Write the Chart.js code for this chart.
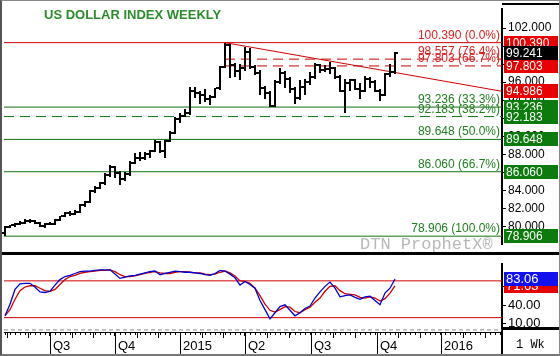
<!DOCTYPE html>
<html>
<head>
<meta charset="utf-8">
<script src="https://cdn.jsdelivr.net/npm/chart.js"></script>
<style>
  body { margin: 0; background: #fff; }
  #wrap { position: relative; width: 560px; height: 356px; overflow: hidden; background: #fff; }
  #mainChart { position: absolute; left: 0; top: 0; }
  #stochChart { position: absolute; left: 0; top: 254px; }
  #frame { position: absolute; left: 0; top: 0; width: 560px; height: 356px; box-sizing: border-box;
           border: 1px solid #8a8a8a; border-left: 2px solid #555; border-bottom: 2px solid #777; pointer-events: none; }
</style>
</head>
<body>
<div id="wrap">
  <canvas id="mainChart" width="560" height="254"></canvas>
  <canvas id="stochChart" width="560" height="102"></canvas>
  <div id="frame"></div>
</div>
<script>
// weekly bars, May 2014 -> Nov 2015
const opens = [79.3,79.9,80.1,80.3,80.4,80.6,80.6,80.4,80.0,80.3,
  80.3,80.7,81.1,81.5,81.4,81.6,82.4,82.7,83.9,84.3,
  84.8,85.7,86.6,85.9,85.3,85.8,87.0,87.6,87.6,88.0,
  88.4,89.4,88.4,89.5,90.4,91.9,92.3,92.6,95.0,94.8,
  94.6,94.1,94.4,95.3,97.7,100.1,97.9,97.2,97.6,99.4,
  97.7,97.0,95.3,94.8,93.4,96.0,97.0,96.3,95.2,94.2,
  95.5,96.0,96.6,97.9,97.3,97.5,97.6,96.6,95.0,95.9,
  96.2,95.2,95.0,96.3,96.0,95.0,94.6,96.9,97.1];
const highs = [80.0,80.2,80.4,80.6,80.8,80.8,80.7,80.5,80.4,80.5,
  80.8,81.2,81.6,81.7,81.8,82.5,82.8,84.0,84.5,84.9,
  85.9,86.8,86.7,86.1,86.0,87.2,88.1,88.2,88.3,88.5,
  89.6,89.5,89.6,90.6,92.1,92.6,93.0,95.5,95.5,95.0,
  95.2,94.6,95.4,97.8,100.39,100.2,98.1,98.0,99.9,99.8,
  97.9,97.3,95.6,95.0,96.2,97.6,97.2,96.6,95.5,96.2,
  96.4,97.1,98.1,98.0,97.9,98.2,97.7,96.8,96.4,96.4,
  96.3,95.9,96.7,96.6,96.2,95.2,97.0,98.0,99.4];
const lows = [78.906,79.8,79.9,80.1,80.3,80.4,80.3,79.9,79.8,80.1,
  80.2,80.6,81.0,81.2,81.3,81.5,82.2,82.6,83.7,84.1,
  84.6,85.5,85.4,84.6,85.0,85.6,86.9,87.3,87.4,87.6,
  88.2,88.1,87.6,89.4,90.2,91.5,92.1,92.4,94.2,93.6,
  93.8,93.5,94.2,95.1,97.6,96.5,96.6,96.2,97.2,97.5,
  96.8,94.6,94.1,93.2,93.3,95.8,95.3,94.8,93.6,94.0,
  94.6,95.7,96.3,97.0,97.1,96.9,96.3,94.9,92.6,95.0,
  95.1,94.1,94.9,95.3,94.9,93.9,94.5,96.6,96.9];
const closes = [79.9,80.1,80.3,80.4,80.6,80.6,80.4,80.0,80.3,80.3,
  80.7,81.1,81.5,81.4,81.6,82.4,82.7,83.9,84.3,84.8,
  85.7,86.6,85.9,85.3,85.8,87.0,87.6,87.6,88.0,88.4,
  89.4,88.4,89.5,90.4,91.9,92.3,92.6,95.0,94.8,94.6,
  94.1,94.4,95.3,97.7,100.1,97.9,97.2,97.6,99.4,97.7,
  97.0,95.3,94.8,93.4,96.0,97.0,96.3,95.2,94.2,95.5,
  96.0,96.6,97.9,97.3,97.5,97.6,96.6,95.0,95.9,96.2,
  95.2,95.0,96.3,96.0,95.0,94.6,96.9,97.1,99.241];

// stochastics
const stochK = [23,42,66,75,76,76,70,62,61,63,
  73,82,87,89,92,95,96,96,97,98,
  98,98,91,84,86,88,89,91,93,95,
  96,90,92,94,96,95,94,94,93,92,
  90,89,92,97,96,91,85,73,79,74,
  68,48,33,18,28,38,41,32,23,28,
  35,39,52,62,71,78,68,54,56,57,
  53,50,54,55,48,41,60,68,83.06];
const stochD = [23,33,50,64,70,72,72,68,64,63,
  66,74,82,87,89,92,94,95,96,97,
  97,98,95,90,87,87,88,90,92,94,
  95,93,92,92,94,95,95,94,93,93,
  91,90,91,94,96,93,88,80,79,76,
  68,56,42,32,29,33,38,37,30,28,
  33,37,45,52,63,71,72,64,59,58,
  57,53,52,54,52,47,51,60,71.63];
const stochBands = [80, 20];

// retracement levels
const fibLevels = [100.390, 98.557, 97.803, 93.236, 92.183, 89.648, 86.060, 78.906];
const fibPcts = ['0.0%', '76.4%', '66.7%', '33.3%', '38.2%', '50.0%', '66.7%', '100.0%'];
const trendEnd = 94.986;

// axes
const priceTicks = [80, 82, 84, 86, 88, 90, 92, 94, 96, 98, 100, 102];
const stochTicks = [10, 40, 70];
const quarterWeeks = [9.0, 22.0, 35.0, 48.0, 61.2, 74.4, 87.2];
const quarterLabels = ['Q3', 'Q4', '2015', 'Q2', 'Q3', 'Q4', '2016'];

const X_MIN = -0.2, X_MAX = 99.4;
const RED = '#d00000', GREEN = '#117311', BLUE = '#0000d0';
const RED_TXT = '#e02020', GREEN_TXT = '#1f7f1f';
const FONT = '"Liberation Sans", Arial, sans-serif';
Chart.defaults.font.family = FONT;

const peakWeek = highs.indexOf(Math.max(...highs));
const fibStyle = [
  { color: RED, dash: [], fromPeak: false },
  { color: RED, dash: [10, 6], fromPeak: true },
  { color: RED, dash: [10, 6], fromPeak: true },
  { color: GREEN, dash: [] },
  { color: GREEN, dash: [10, 6] },
  { color: GREEN, dash: [] },
  { color: GREEN, dash: [] },
  { color: GREEN, dash: [] }
];

const lineSet = (pts, color, dash, width) => ({
  data: pts, borderColor: color, borderDash: dash || [], borderWidth: width || 1,
  pointRadius: 0, tension: 0, fill: false
});

const mainSets = fibLevels.map((v, k) => lineSet(
  [{ x: fibStyle[k].fromPeak ? peakWeek : X_MIN, y: v }, { x: X_MAX, y: v }],
  fibStyle[k].color, fibStyle[k].dash));
mainSets.push(lineSet([{ x: peakWeek, y: highs[peakWeek] }, { x: X_MAX, y: trendEnd }], RED));

function valueBox(ctx, y, bg, text, size) {
  ctx.fillStyle = bg;
  ctx.fillRect(504, Math.round(y) - 7, 54, 14);
  ctx.fillStyle = '#fff';
  ctx.font = size + 'px ' + FONT;
  ctx.textAlign = 'left';
  ctx.textBaseline = 'middle';
  ctx.fillText(text, 506, Math.round(y) + 0.5);
}

const ohlcPlugin = {
  id: 'ohlc',
  afterDatasetsDraw(chart) {
    const { ctx, scales: { x, y } } = chart;
    ctx.save();
    ctx.fillStyle = '#000';
    opens.forEach((o, i) => {
      const px = Math.round(x.getPixelForValue(i));
      const yH = Math.round(y.getPixelForValue(highs[i]));
      const yL = Math.round(y.getPixelForValue(lows[i]));
      ctx.fillRect(px - 1, yH, 2, Math.max(2, yL - yH));
      ctx.fillRect(px - 3, Math.round(y.getPixelForValue(o)) - 1, 2, 2);
      ctx.fillRect(px + 1, Math.round(y.getPixelForValue(closes[i])) - 1, 2, 2);
    });
    ctx.restore();
  },
  afterDraw(chart) {
    const { ctx, chartArea, scales: { y } } = chart;
    ctx.save();
    // title + watermark
    ctx.textAlign = 'left';
    ctx.textBaseline = 'alphabetic';
    ctx.font = 'bold 13px ' + FONT;
    ctx.fillStyle = '#2a8c2a';
    ctx.fillText('US DOLLAR INDEX WEEKLY', 44, 19);
    ctx.font = '17px "Liberation Mono", monospace';
    ctx.fillStyle = '#b8b8b8';
    ctx.fillText('DTN ProphetX\u00AE', 360, 249);

    // level captions
    ctx.font = '12px ' + FONT;
    ctx.textAlign = 'right';
    fibLevels.forEach((v, k) => {
      ctx.fillStyle = fibStyle[k].color === RED ? RED_TXT : GREEN_TXT;
      ctx.fillText(v.toFixed(3) + ' (' + fibPcts[k] + ')', chartArea.right - 2, y.getPixelForValue(v) - 4);
    });

    // axis value boxes
    [0, 1, 2].forEach(k => valueBox(ctx, y.getPixelForValue(fibLevels[k]), '#e80000', fibLevels[k].toFixed(3), 12));
    valueBox(ctx, y.getPixelForValue(closes[closes.length - 1]), '#000', closes[closes.length - 1].toFixed(3), 12);
    valueBox(ctx, y.getPixelForValue(trendEnd), '#e80000', trendEnd.toFixed(3), 12);
    [3, 4, 5, 6, 7].forEach(k => valueBox(ctx, y.getPixelForValue(fibLevels[k]), '#0c7a0c', fibLevels[k].toFixed(3), 12));

    // panel borders
    ctx.fillStyle = '#000';
    ctx.fillRect(502, 3, 58, 2);
    ctx.fillRect(0, 252, 560, 2);
    ctx.restore();
  }
};

new Chart(document.getElementById('mainChart'), {
  type: 'line',
  data: { datasets: mainSets },
  options: {
    responsive: false,
    animation: false,
    layout: { padding: { left: 4, top: 5, bottom: 1, right: 0 } },
    plugins: { legend: { display: false }, tooltip: { enabled: false } },
    scales: {
      x: { type: 'linear', min: X_MIN, max: X_MAX, display: false },
      y: {
        position: 'right', min: 77.95, max: 104.1,
        afterFit: s => { s.width = 58; },
        afterBuildTicks: s => { s.ticks = priceTicks.map(v => ({ value: v })); },
        ticks: { color: '#000', font: { size: 12 }, padding: 2, autoSkip: false, callback: v => v.toFixed(3) },
        grid: { drawOnChartArea: false, tickLength: 4, color: '#000' },
        border: { color: '#000', width: 2 }
      }
    }
  },
  plugins: [ohlcPlugin]
});

const stochPlugin = {
  id: 'stochExtras',
  afterDraw(chart) {
    const { ctx, chartArea, scales: { x, y } } = chart;
    ctx.save();
    ctx.fillStyle = '#000';
    // week ticks, month ticks, quarter separators
    for (let i = 0; i < X_MAX; i++) {
      ctx.fillRect(Math.round(x.getPixelForValue(i)), chartArea.bottom, 1, 3);
    }
    quarterWeeks.forEach((q, k) => {
      const step = k + 1 < quarterWeeks.length ? (quarterWeeks[k + 1] - q) / 3 : 13.05 / 3;
      [1, 2].forEach(m => {
        const v = q + m * step;
        if (v < X_MAX) ctx.fillRect(Math.round(x.getPixelForValue(v)), chartArea.bottom, 1, 6);
      });
      ctx.fillRect(Math.round(x.getPixelForValue(q)), chartArea.bottom, 1, 22);
    });
    [quarterWeeks[0] - 13.0 / 3, quarterWeeks[0] - 26.0 / 3].forEach(v => {
      if (v > X_MIN) ctx.fillRect(Math.round(x.getPixelForValue(v)), chartArea.bottom, 1, 6);
    });
    ctx.fillRect(501, chartArea.bottom, 2, 102 - chartArea.bottom);
    ctx.fillRect(502, 73, 58, 3);
    ctx.fillRect(0, 0, 560, 1);

    // value boxes
    valueBox(ctx, y.getPixelForValue(stochD[stochD.length - 1]), '#e80000', stochD[stochD.length - 1].toFixed(2), 13);
    valueBox(ctx, y.getPixelForValue(stochK[stochK.length - 1]), '#1010f0', stochK[stochK.length - 1].toFixed(2), 13);

    ctx.fillStyle = '#000';
    ctx.font = '12px "Liberation Mono", monospace';
    ctx.textAlign = 'left';
    ctx.textBaseline = 'alphabetic';
    ctx.fillText('1 Wk', 516, 94);
    ctx.restore();
  }
};

const weekPts = arr => arr.map((v, i) => ({ x: i, y: v }));

new Chart(document.getElementById('stochChart'), {
  type: 'line',
  data: {
    datasets: [
      lineSet(weekPts(stochK), BLUE, [], 1.3),
      lineSet(weekPts(stochD), RED, [], 1.3),
      lineSet([{ x: X_MIN, y: stochBands[0] }, { x: X_MAX, y: stochBands[0] }], RED),
      lineSet([{ x: X_MIN, y: stochBands[1] }, { x: X_MAX, y: stochBands[1] }], RED),
      lineSet([{ x: X_MIN, y: 0 }, { x: X_MAX, y: 0 }], '#888', [4, 3])
    ]
  },
  options: {
    responsive: false,
    animation: false,
    layout: { padding: { left: 4, top: 2, bottom: 2, right: 0 } },
    plugins: { legend: { display: false }, tooltip: { enabled: false } },
    scales: {
      x: {
        type: 'linear', min: X_MIN, max: X_MAX, position: 'bottom',
        afterFit: s => { s.height = 22; },
        afterBuildTicks: s => { s.ticks = quarterWeeks.map(v => ({ value: v })); },
        ticks: {
          autoSkip: false, maxRotation: 0, align: 'start', labelOffset: 3, padding: 3,
          color: '#000', font: { size: 13 },
          callback: (v, i) => quarterLabels[i]
        },
        grid: { drawOnChartArea: false, tickLength: 4, color: '#000' },
        border: { color: '#000', width: 1 }
      },
      y: {
        position: 'right', min: -3.4, max: 107.8,
        afterFit: s => { s.width = 58; },
        afterBuildTicks: s => { s.ticks = stochTicks.map(v => ({ value: v })); },
        ticks: { color: '#000', font: { size: 13 }, padding: 2, autoSkip: false, callback: v => v.toFixed(2) },
        grid: { drawOnChartArea: false, tickLength: 4, color: '#000' },
        border: { color: '#000', width: 2 }
      }
    }
  },
  plugins: [stochPlugin]
});
</script>
</body>
</html>
